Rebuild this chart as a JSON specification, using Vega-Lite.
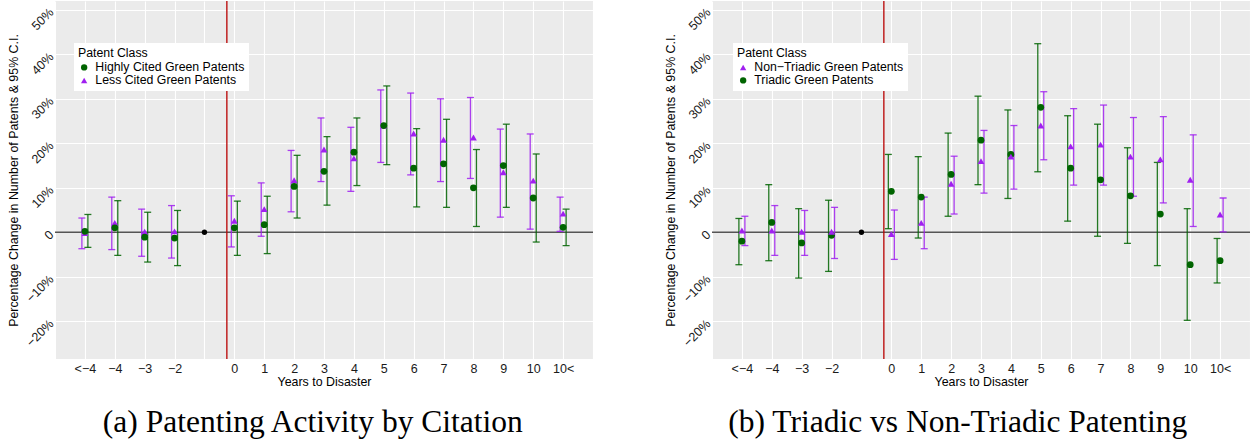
{
  "$schema": "https://vega.github.io/schema/vega-lite/v6.json",
  "background": "white",
  "padding": {"left": 7, "top": 0, "right": 2, "bottom": 0},
  "spacing": 70,
  "datasets": {
    "a": [
      {"t": -1, "g": "ref", "est": 0, "lo": 0, "hi": 0},
      {"t": -5, "g": "Less Cited Green Patents", "est": -0.2, "lo": -3.7, "hi": 3.2},
      {"t": -5, "g": "Highly Cited Green Patents", "est": 0.2, "lo": -3.4, "hi": 4.0},
      {"t": -4, "g": "Less Cited Green Patents", "est": 2.1, "lo": -3.9, "hi": 7.9},
      {"t": -4, "g": "Highly Cited Green Patents", "est": 1.0, "lo": -5.2, "hi": 7.1},
      {"t": -3, "g": "Less Cited Green Patents", "est": 0.1, "lo": -5.4, "hi": 5.2},
      {"t": -3, "g": "Highly Cited Green Patents", "est": -1.1, "lo": -6.7, "hi": 4.5},
      {"t": -2, "g": "Less Cited Green Patents", "est": 0.2, "lo": -5.8, "hi": 6.0},
      {"t": -2, "g": "Highly Cited Green Patents", "est": -1.3, "lo": -7.5, "hi": 4.9},
      {"t": 0, "g": "Less Cited Green Patents", "est": 2.6, "lo": -3.3, "hi": 8.2},
      {"t": 0, "g": "Highly Cited Green Patents", "est": 1.0, "lo": -5.2, "hi": 7.0},
      {"t": 1, "g": "Less Cited Green Patents", "est": 5.2, "lo": -0.9, "hi": 11.1},
      {"t": 1, "g": "Highly Cited Green Patents", "est": 1.7, "lo": -4.8, "hi": 8.1},
      {"t": 2, "g": "Less Cited Green Patents", "est": 11.7, "lo": 4.6, "hi": 18.4},
      {"t": 2, "g": "Highly Cited Green Patents", "est": 10.3, "lo": 3.2, "hi": 17.3},
      {"t": 3, "g": "Less Cited Green Patents", "est": 18.6, "lo": 11.4, "hi": 25.7},
      {"t": 3, "g": "Highly Cited Green Patents", "est": 13.7, "lo": 6.1, "hi": 21.5},
      {"t": 4, "g": "Less Cited Green Patents", "est": 16.6, "lo": 9.2, "hi": 23.6},
      {"t": 4, "g": "Highly Cited Green Patents", "est": 18.0, "lo": 10.5, "hi": 25.7},
      {"t": 5, "g": "Less Cited Green Patents", "est": 24.0, "lo": 15.7, "hi": 32.0},
      {"t": 5, "g": "Highly Cited Green Patents", "est": 24.0, "lo": 15.2, "hi": 32.9},
      {"t": 6, "g": "Less Cited Green Patents", "est": 22.2, "lo": 12.9, "hi": 31.3},
      {"t": 6, "g": "Highly Cited Green Patents", "est": 14.4, "lo": 5.7, "hi": 23.3},
      {"t": 7, "g": "Less Cited Green Patents", "est": 20.8, "lo": 11.4, "hi": 30.0},
      {"t": 7, "g": "Highly Cited Green Patents", "est": 15.4, "lo": 5.6, "hi": 25.4},
      {"t": 8, "g": "Less Cited Green Patents", "est": 21.3, "lo": 12.1, "hi": 30.3},
      {"t": 8, "g": "Highly Cited Green Patents", "est": 10.0, "lo": 1.3, "hi": 18.6},
      {"t": 9, "g": "Less Cited Green Patents", "est": 13.5, "lo": 3.4, "hi": 23.2},
      {"t": 9, "g": "Highly Cited Green Patents", "est": 15.0, "lo": 5.6, "hi": 24.3},
      {"t": 10, "g": "Less Cited Green Patents", "est": 11.6, "lo": 0.7, "hi": 22.1},
      {"t": 10, "g": "Highly Cited Green Patents", "est": 7.7, "lo": -2.2, "hi": 17.6},
      {"t": 11, "g": "Less Cited Green Patents", "est": 4.2, "lo": 0.2, "hi": 7.9},
      {"t": 11, "g": "Highly Cited Green Patents", "est": 1.1, "lo": -3.0, "hi": 5.2}
    ],
    "b": [
      {"t": -1, "g": "ref", "est": 0, "lo": 0, "hi": 0},
      {"t": -5, "g": "Triadic Green Patents", "est": -2.0, "lo": -7.3, "hi": 3.1},
      {"t": -5, "g": "Non−Triadic Green Patents", "est": 0.4, "lo": -3.0, "hi": 3.6},
      {"t": -4, "g": "Triadic Green Patents", "est": 2.2, "lo": -6.4, "hi": 10.7},
      {"t": -4, "g": "Non−Triadic Green Patents", "est": 0.4, "lo": -5.2, "hi": 6.0},
      {"t": -3, "g": "Triadic Green Patents", "est": -2.4, "lo": -10.3, "hi": 5.3},
      {"t": -3, "g": "Non−Triadic Green Patents", "est": 0.1, "lo": -5.2, "hi": 4.9},
      {"t": -2, "g": "Triadic Green Patents", "est": -0.7, "lo": -8.8, "hi": 7.2},
      {"t": -2, "g": "Non−Triadic Green Patents", "est": 0.1, "lo": -5.9, "hi": 5.6},
      {"t": 0, "g": "Triadic Green Patents", "est": 9.2, "lo": 0.8, "hi": 17.5},
      {"t": 0, "g": "Non−Triadic Green Patents", "est": -0.4, "lo": -6.1, "hi": 5.0},
      {"t": 1, "g": "Triadic Green Patents", "est": 7.9, "lo": -1.3, "hi": 17.0},
      {"t": 1, "g": "Non−Triadic Green Patents", "est": 2.1, "lo": -3.7, "hi": 7.9},
      {"t": 2, "g": "Triadic Green Patents", "est": 13.0, "lo": 3.6, "hi": 22.3},
      {"t": 2, "g": "Non−Triadic Green Patents", "est": 10.9, "lo": 4.1, "hi": 17.1},
      {"t": 3, "g": "Triadic Green Patents", "est": 20.7, "lo": 10.7, "hi": 30.6},
      {"t": 3, "g": "Non−Triadic Green Patents", "est": 16.0, "lo": 8.8, "hi": 22.9},
      {"t": 4, "g": "Triadic Green Patents", "est": 17.5, "lo": 7.6, "hi": 27.5},
      {"t": 4, "g": "Non−Triadic Green Patents", "est": 17.0, "lo": 9.7, "hi": 24.0},
      {"t": 5, "g": "Triadic Green Patents", "est": 28.1, "lo": 13.6, "hi": 42.4},
      {"t": 5, "g": "Non−Triadic Green Patents", "est": 24.0, "lo": 16.3, "hi": 31.6},
      {"t": 6, "g": "Triadic Green Patents", "est": 14.4, "lo": 2.5, "hi": 26.2},
      {"t": 6, "g": "Non−Triadic Green Patents", "est": 19.3, "lo": 10.6, "hi": 27.8},
      {"t": 7, "g": "Triadic Green Patents", "est": 11.8, "lo": -0.9, "hi": 24.3},
      {"t": 7, "g": "Non−Triadic Green Patents", "est": 19.7, "lo": 10.6, "hi": 28.6},
      {"t": 8, "g": "Triadic Green Patents", "est": 8.2, "lo": -2.5, "hi": 19.0},
      {"t": 8, "g": "Non−Triadic Green Patents", "est": 17.0, "lo": 8.1, "hi": 25.8},
      {"t": 9, "g": "Triadic Green Patents", "est": 4.1, "lo": -7.5, "hi": 15.7},
      {"t": 9, "g": "Non−Triadic Green Patents", "est": 16.4, "lo": 6.6, "hi": 26.0},
      {"t": 10, "g": "Triadic Green Patents", "est": -7.3, "lo": -19.8, "hi": 5.3},
      {"t": 10, "g": "Non−Triadic Green Patents", "est": 11.8, "lo": 1.3, "hi": 21.9},
      {"t": 11, "g": "Triadic Green Patents", "est": -6.4, "lo": -11.4, "hi": -1.4},
      {"t": 11, "g": "Non−Triadic Green Patents", "est": 4.0, "lo": 0.1, "hi": 7.7}
    ]
  },
  "config": {
    "font": "Liberation Sans",
    "view": {"fill": "#EBEBEB", "stroke": null},
    "axis": {
      "domain": false,
      "grid": true,
      "gridColor": "white",
      "gridWidth": 1.1,
      "labelColor": "#1a1a1a",
      "labelFontSize": 12.5,
      "titleFontSize": 12.4,
      "titleFontWeight": "normal",
      "titleColor": "black",
      "ticks": false
    },
    "axisX": {
      "values": [-6, -5.5, -5, -4.5, -4, -3.5, -3, -2.5, -2, -1.5, -1, -0.5, 0, 0.5, 1, 1.5, 2, 2.5, 3, 3.5, 4, 4.5, 5, 5.5, 6, 6.5, 7, 7.5, 8, 8.5, 9, 9.5, 10, 10.5, 11, 11.5, 12],
      "labelExpr": "datum.value == -5 ? '<−4' : datum.value == 11 ? '10<' : (datum.value % 1 != 0 || datum.value == -1 || datum.value == -6 || datum.value == 12) ? '' : datum.value < 0 ? '−' + (-datum.value) : '' + datum.value",
      "labelPadding": 3,
      "titlePadding": 1,
      "labelFlush": false
    },
    "axisY": {
      "values": [-25, -20, -15, -10, -5, 0, 5, 10, 15, 20, 25, 30, 35, 40, 45, 50],
      "labelExpr": "datum.value % 10 != 0 ? '' : datum.value == 0 ? '0' : datum.value < 0 ? '−' + (-datum.value) + '%' : datum.value + '%'",
      "labelAngle": -45,
      "labelAlign": "right",
      "labelBaseline": "middle",
      "labelPadding": 4,
      "titlePadding": 3
    },
    "legend": {
      "titleFontWeight": "normal",
      "titleFontSize": 12.3,
      "labelFontSize": 12.3,
      "titleColor": "black",
      "labelColor": "black"
    }
  },
  "hconcat": [
    {
      "width": 538,
      "height": 358,
      "data": {"name": "a"},
      "title": {"text": "(a) Patenting Activity by Citation", "orient": "bottom", "anchor": "middle", "frame": "bounds", "font": "Liberation Serif", "fontSize": 31.5, "fontWeight": "normal", "color": "black", "offset": 19, "dx": 12},
      "encoding": {
        "x": {"field": "t", "type": "quantitative", "scale": {"domain": [-6, 12], "nice": false, "zero": false}, "title": "Years to Disaster"}
      },
      "layer": [
        {"transform": [{"filter": "datum.g == 'ref'"}], "mark": {"type": "rule", "color": "#555555", "strokeWidth": 1.3}, "encoding": {"x": null, "y": {"datum": 0, "scale": {"domain": [-28.5, 52], "nice": false, "zero": false}, "title": "Percentage Change in Number of Patents & 95% C.I."}}},
        {"transform": [{"filter": "datum.g == 'ref'"}], "mark": {"type": "rule", "color": "#B80000", "strokeWidth": 1.3}, "encoding": {"x": {"datum": -0.25}}},
        {
          "transform": [{"filter": "datum.g == 'Less Cited Green Patents'"}],
          "layer": [
            {"mark": {"type": "rule", "xOffset": -3, "strokeWidth": 1.3, "color": "#A020F0", "opacity": 0.85}, "encoding": {"y": {"field": "lo", "type": "quantitative", "title": "Percentage Change in Number of Patents & 95% C.I."}, "y2": {"field": "hi"}}},
            {"mark": {"type": "tick", "orient": "horizontal", "xOffset": -3, "size": 7, "thickness": 1.3, "color": "#A020F0", "opacity": 0.85}, "encoding": {"y": {"field": "lo", "type": "quantitative", "title": "Percentage Change in Number of Patents & 95% C.I."}}},
            {"mark": {"type": "tick", "orient": "horizontal", "xOffset": -3, "size": 7, "thickness": 1.3, "color": "#A020F0", "opacity": 0.85}, "encoding": {"y": {"field": "hi", "type": "quantitative", "title": "Percentage Change in Number of Patents & 95% C.I."}}}
          ]
        },
        {
          "transform": [{"filter": "datum.g == 'Highly Cited Green Patents'"}],
          "layer": [
            {"mark": {"type": "rule", "xOffset": 3, "strokeWidth": 1.3, "color": "#006400", "opacity": 0.85}, "encoding": {"y": {"field": "lo", "type": "quantitative", "title": "Percentage Change in Number of Patents & 95% C.I."}, "y2": {"field": "hi"}}},
            {"mark": {"type": "tick", "orient": "horizontal", "xOffset": 3, "size": 7, "thickness": 1.3, "color": "#006400", "opacity": 0.85}, "encoding": {"y": {"field": "lo", "type": "quantitative", "title": "Percentage Change in Number of Patents & 95% C.I."}}},
            {"mark": {"type": "tick", "orient": "horizontal", "xOffset": 3, "size": 7, "thickness": 1.3, "color": "#006400", "opacity": 0.85}, "encoding": {"y": {"field": "hi", "type": "quantitative", "title": "Percentage Change in Number of Patents & 95% C.I."}}}
          ]
        },
        {
          "transform": [{"filter": "datum.g == 'ref'"}],
          "mark": {"type": "point", "filled": true, "size": 28, "color": "black", "opacity": 1},
          "encoding": {"y": {"field": "est", "type": "quantitative", "title": "Percentage Change in Number of Patents & 95% C.I."}}
        },
        {
          "transform": [{"filter": "datum.g != 'ref'"}],
          "mark": {"type": "point", "filled": true, "opacity": 1, "size": 46},
          "encoding": {
            "xOffset": {"field": "g", "type": "nominal", "scale": {"domain": ["Highly Cited Green Patents", "Less Cited Green Patents"], "range": [3, -3]}},
            "y": {"field": "est", "type": "quantitative", "title": "Percentage Change in Number of Patents & 95% C.I."},
            "color": {"field": "g", "type": "nominal", "scale": {"domain": ["Highly Cited Green Patents", "Less Cited Green Patents"], "range": ["#006400", "#A020F0"]},
              "legend": {"title": "Patent Class", "orient": "none", "legendX": 19, "legendY": 42, "fillColor": "white", "padding": 4, "rowPadding": 0, "symbolSize": 40, "titlePadding": 2, "labelOffset": 5}},
            "shape": {"field": "g", "type": "nominal", "scale": {"domain": ["Highly Cited Green Patents", "Less Cited Green Patents"], "range": ["circle", "triangle-up"]}}
          }
        }
      ]
    },
    {
      "width": 538,
      "height": 358,
      "data": {"name": "b"},
      "title": {"text": "(b) Triadic vs Non-Triadic Patenting", "orient": "bottom", "anchor": "middle", "frame": "bounds", "font": "Liberation Serif", "fontSize": 31.5, "fontWeight": "normal", "color": "black", "offset": 19},
      "encoding": {
        "x": {"field": "t", "type": "quantitative", "scale": {"domain": [-6, 12], "nice": false, "zero": false}, "title": "Years to Disaster"}
      },
      "layer": [
        {"transform": [{"filter": "datum.g == 'ref'"}], "mark": {"type": "rule", "color": "#555555", "strokeWidth": 1.3}, "encoding": {"x": null, "y": {"datum": 0, "scale": {"domain": [-28.5, 52], "nice": false, "zero": false}, "title": "Percentage Change in Number of Patents & 95% C.I."}}},
        {"transform": [{"filter": "datum.g == 'ref'"}], "mark": {"type": "rule", "color": "#B80000", "strokeWidth": 1.3}, "encoding": {"x": {"datum": -0.25}}},
        {
          "transform": [{"filter": "datum.g == 'Triadic Green Patents'"}],
          "layer": [
            {"mark": {"type": "rule", "xOffset": -3, "strokeWidth": 1.3, "color": "#006400", "opacity": 0.85}, "encoding": {"y": {"field": "lo", "type": "quantitative", "title": "Percentage Change in Number of Patents & 95% C.I."}, "y2": {"field": "hi"}}},
            {"mark": {"type": "tick", "orient": "horizontal", "xOffset": -3, "size": 7, "thickness": 1.3, "color": "#006400", "opacity": 0.85}, "encoding": {"y": {"field": "lo", "type": "quantitative", "title": "Percentage Change in Number of Patents & 95% C.I."}}},
            {"mark": {"type": "tick", "orient": "horizontal", "xOffset": -3, "size": 7, "thickness": 1.3, "color": "#006400", "opacity": 0.85}, "encoding": {"y": {"field": "hi", "type": "quantitative", "title": "Percentage Change in Number of Patents & 95% C.I."}}}
          ]
        },
        {
          "transform": [{"filter": "datum.g == 'Non−Triadic Green Patents'"}],
          "layer": [
            {"mark": {"type": "rule", "xOffset": 3, "strokeWidth": 1.3, "color": "#A020F0", "opacity": 0.85}, "encoding": {"y": {"field": "lo", "type": "quantitative", "title": "Percentage Change in Number of Patents & 95% C.I."}, "y2": {"field": "hi"}}},
            {"mark": {"type": "tick", "orient": "horizontal", "xOffset": 3, "size": 7, "thickness": 1.3, "color": "#A020F0", "opacity": 0.85}, "encoding": {"y": {"field": "lo", "type": "quantitative", "title": "Percentage Change in Number of Patents & 95% C.I."}}},
            {"mark": {"type": "tick", "orient": "horizontal", "xOffset": 3, "size": 7, "thickness": 1.3, "color": "#A020F0", "opacity": 0.85}, "encoding": {"y": {"field": "hi", "type": "quantitative", "title": "Percentage Change in Number of Patents & 95% C.I."}}}
          ]
        },
        {
          "transform": [{"filter": "datum.g == 'ref'"}],
          "mark": {"type": "point", "filled": true, "size": 28, "color": "black", "opacity": 1},
          "encoding": {"y": {"field": "est", "type": "quantitative", "title": "Percentage Change in Number of Patents & 95% C.I."}}
        },
        {
          "transform": [{"filter": "datum.g != 'ref'"}],
          "mark": {"type": "point", "filled": true, "opacity": 1, "size": 46},
          "encoding": {
            "xOffset": {"field": "g", "type": "nominal", "scale": {"domain": ["Non−Triadic Green Patents", "Triadic Green Patents"], "range": [3, -3]}},
            "y": {"field": "est", "type": "quantitative", "title": "Percentage Change in Number of Patents & 95% C.I."},
            "color": {"field": "g", "type": "nominal", "scale": {"domain": ["Non−Triadic Green Patents", "Triadic Green Patents"], "range": ["#A020F0", "#006400"]},
              "legend": {"title": "Patent Class", "orient": "none", "legendX": 21, "legendY": 42, "fillColor": "white", "padding": 4, "rowPadding": 0, "symbolSize": 40, "titlePadding": 2, "labelOffset": 5}},
            "shape": {"field": "g", "type": "nominal", "scale": {"domain": ["Non−Triadic Green Patents", "Triadic Green Patents"], "range": ["triangle-up", "circle"]}}
          }
        }
      ]
    }
  ],
  "resolve": {"scale": {"color": "independent", "shape": "independent", "xOffset": "independent"}, "legend": {"color": "independent", "shape": "independent"}}
}
